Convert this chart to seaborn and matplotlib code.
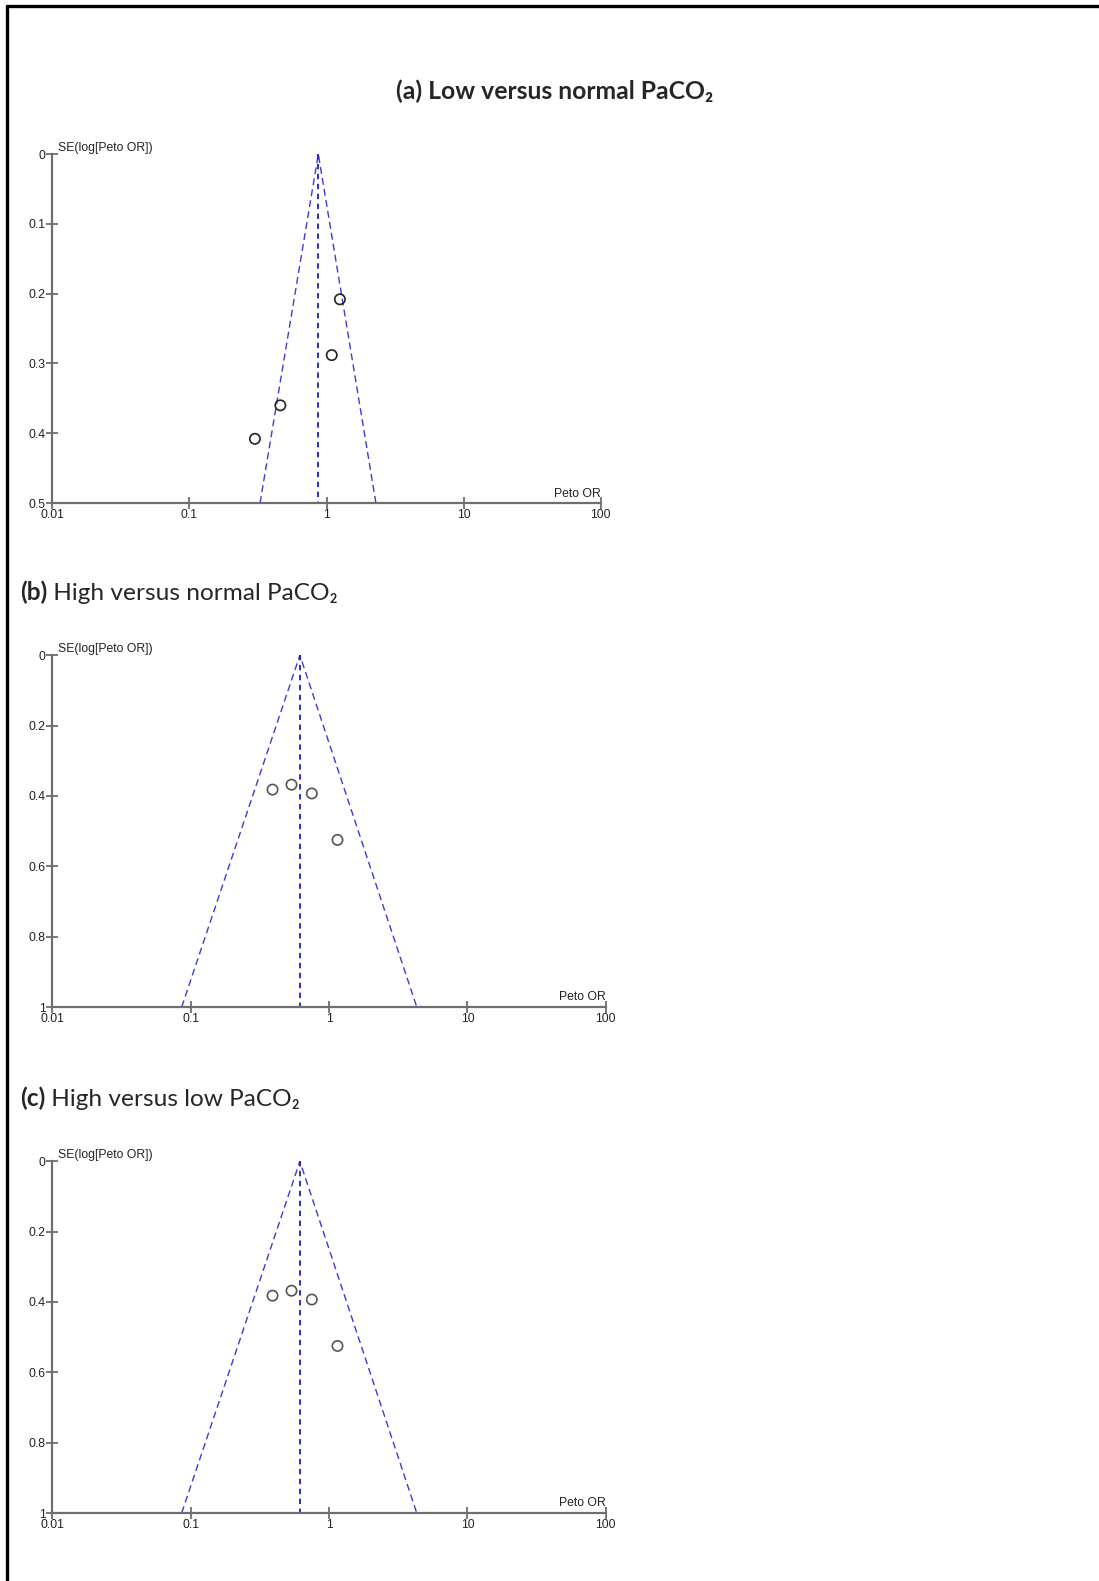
import matplotlib
matplotlib.use("Agg")
import matplotlib.pyplot as plt
import seaborn as sns
from matplotlib.lines import Line2D

# (a) low versus normal PaCO2
a_or = [1.25, 1.09, 0.46, 0.30]
a_se = [0.208, 0.288, 0.360, 0.408]
a_pooled = 0.87
a_limits = [0.327, 2.29]
a_ymax = 0.5
a_yticks = [0, 0.1, 0.2, 0.3, 0.4, 0.5]
a_ylabels = ["0", "0.1", "0.2", "0.3", "0.4", "0.5"]

# (b) high versus normal PaCO2
b_or = [0.39, 0.535, 0.75, 1.15]
b_se = [0.382, 0.368, 0.393, 0.525]
b_pooled = 0.615
b_limits = [0.086, 4.3]
b_ymax = 1.0
b_yticks = [0, 0.2, 0.4, 0.6, 0.8, 1.0]
b_ylabels = ["0", "0.2", "0.4", "0.6", "0.8", "1"]

# (c) high versus low PaCO2
c_or = [0.39, 0.535, 0.75, 1.15]
c_se = [0.382, 0.368, 0.393, 0.525]
c_pooled = 0.615
c_limits = [0.086, 4.3]

xticks = [0.01, 0.1, 1, 10, 100]
xlabels = ["0.01", "0.1", "1", "10", "100"]

W, H = 1099, 1581

sns.set_style("ticks")
plt.rcParams["font.family"] = ["Liberation Sans", "DejaVu Sans"]

fig = plt.figure(figsize=(W / 100, H / 100), dpi=100)


def px_rect(left, top, right, bottom):
    return [left / W, 1 - bottom / H, (right - left) / W, (bottom - top) / H]


def funnel(ax, ors, ses, pooled, limits, ymax, yticks, ylabels, edge):
    # funnel sides and pooled estimate
    sns.lineplot(x=[limits[0], pooled, limits[1]], y=[ymax, 0, ymax],
                 sort=False, estimator=None, ax=ax, color="#3b3bd8",
                 linewidth=1.0, linestyle=(0, (5, 3)))
    sns.lineplot(x=[pooled, pooled], y=[0, ymax], sort=False, estimator=None,
                 ax=ax, color="#1c1cd0", linewidth=1.3, linestyle=(0, (3, 2.5)))
    sns.scatterplot(x=ors, y=ses, ax=ax, marker="o", s=55,
                    facecolor="none", edgecolor=edge, linewidth=1.2, zorder=3)

    ax.set_xscale("log")
    ax.set_xlim(0.01, 100)
    ax.set_ylim(ymax, 0)
    ax.set_xticks(xticks)
    ax.set_xticklabels(xlabels)
    ax.minorticks_off()
    ax.set_yticks(yticks)
    ax.set_yticklabels(ylabels)
    ax.set_xlabel("")
    ax.set_ylabel("")

    for side in ["top", "right"]:
        ax.spines[side].set_visible(False)
    for side in ["left", "bottom"]:
        ax.spines[side].set_color("#6e6e6e")
        ax.spines[side].set_linewidth(1.6)
    ax.tick_params(direction="inout", length=8, width=1.3, color="#6e6e6e",
                   labelsize=8.8, labelcolor="#222222", pad=1)
    ax.tick_params(axis="x", pad=0)

    ax.text(0.011, 1.0, "SE(log[Peto OR])", transform=ax.transAxes,
            fontsize=8.8, color="#222222", ha="left", va="bottom")
    ax.text(1.0, 0.01, "Peto OR", transform=ax.transAxes,
            fontsize=8.8, color="#222222", ha="right", va="bottom")


ax_a = fig.add_axes(px_rect(52.4, 154.2, 600.8, 503))
funnel(ax_a, a_or, a_se, a_pooled, a_limits, a_ymax, a_yticks, a_ylabels, "#222222")

ax_b = fig.add_axes(px_rect(52.4, 655.2, 605.8, 1007))
funnel(ax_b, b_or, b_se, b_pooled, b_limits, b_ymax, b_yticks, b_ylabels, "#555555")

ax_c = fig.add_axes(px_rect(52.4, 1161.3, 605.8, 1513))
funnel(ax_c, c_or, c_se, c_pooled, c_limits, b_ymax, b_yticks, b_ylabels, "#555555")

# panel titles
title_font = ["Lato", "DejaVu Sans"]
fig.text(555 / W, 1 - 91 / H, "(a) Low versus normal PaCO\u2082", family=title_font,
         fontsize=17.8, fontweight="bold", ha="center", va="center")

for label, rest, ypx in [("(b)", " High versus normal PaCO\u2082", 592),
                         ("(c)", " High versus low PaCO\u2082", 1098)]:
    t = fig.text(20 / W, 1 - ypx / H, label, family=title_font, fontsize=17.6,
                 fontweight="bold", ha="left", va="center")
    ax_a.annotate(rest, xy=(1, 0), xycoords=t, family=title_font, fontsize=17.6,
                  ha="left", va="bottom", annotation_clip=False)

# frame lines on left and top of the page
fig.add_artist(Line2D([7 / W, 7 / W], [0, 1 - 6 / H], color="black", linewidth=2.4,
                      transform=fig.transFigure))
fig.add_artist(Line2D([7 / W, 1], [1 - 6 / H, 1 - 6 / H], color="black", linewidth=2.4,
                      transform=fig.transFigure))

fig.savefig("out.png", dpi=100)
